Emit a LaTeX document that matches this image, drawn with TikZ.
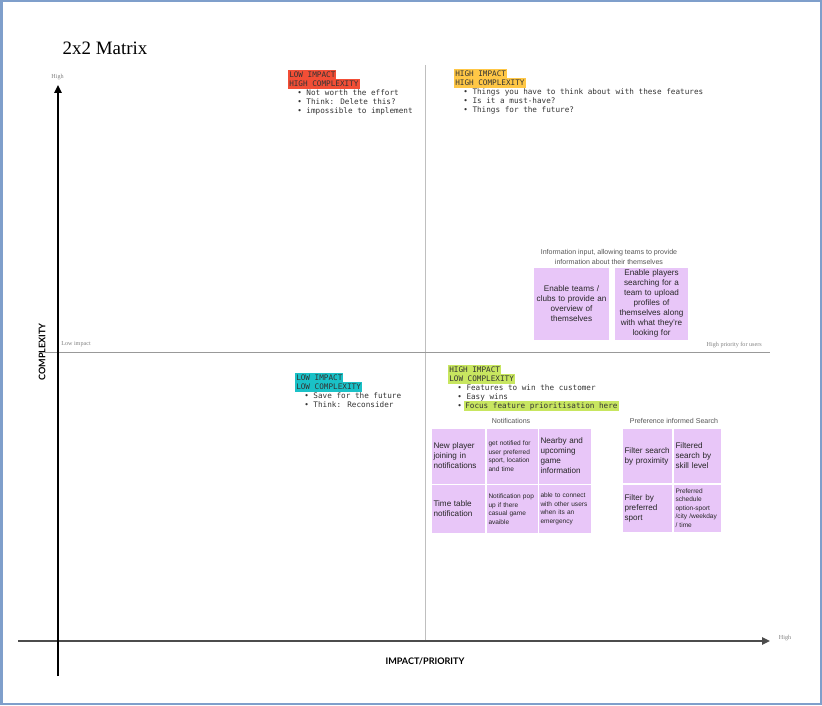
\documentclass[tikz,border=0pt]{standalone}
\usepackage{fontspec}
\setmainfont{Liberation Sans}
\newfontfamily\monof{DejaVu Sans Mono}
\newfontfamily\seriff{Liberation Serif}
\newfontfamily\latof{Lato}
\usetikzlibrary{arrows.meta}
\definecolor{framec}{HTML}{7F9FCB}
\definecolor{hlred}{HTML}{F24E36}
\definecolor{hlyel}{HTML}{FFC746}
\definecolor{hlteal}{HTML}{1AC1C7}
\definecolor{hllime}{HTML}{C8E660}
\definecolor{notec}{HTML}{E8C6F8}
\definecolor{monotxt}{HTML}{333333}
\definecolor{capc}{HTML}{555555}
\tikzset{
  frame/.style={draw=framec, line width=1.5pt},
  mono/.style={font=\monof\fontsize{5.75}{6.7}\selectfont, text=monotxt, anchor=west,
    inner xsep=0.75pt, inner ysep=0.4pt, text height=4.6pt, text depth=1.5pt},
  hl/.style={mono, fill=#1},
  tiny/.style={font=\seriff\fontsize{4.6}{5.5}\selectfont, text=gray, inner sep=0pt},
  axlab/.style={font=\latof\bfseries\fontsize{6.8}{8}\selectfont, text=black, inner sep=0pt},
  grpcap/.style={font=\fontsize{5.3}{7.4}\selectfont, text=capc, align=center, inner sep=0pt},
  note/.style={fill=notec, draw=white, line width=0.6pt, inner xsep=1.5pt, inner ysep=0pt,
    align=left, text=black!85},
  big/.style={font=\fontsize{6.1}{7.5}\selectfont},
  small/.style={font=\fontsize{4.9}{6.4}\selectfont},
  info/.style={font=\fontsize{6.1}{7.5}\selectfont, align=center},
}
\begin{document}
\begin{tikzpicture}[x=0.75pt,y=-0.75pt]
\useasboundingbox (0,0) rectangle (822,706);
\draw[frame] (1.5,1.5) rectangle (820.5,703.5);

% title
\node[font=\seriff\fontsize{14.2}{16}\selectfont, inner sep=0pt] (title) at (105,48) {2x2 Matrix};

% quadrant divider lines
\coordinate (vtop) at (425,65);
\coordinate (vbot) at (425,640);
\coordinate (hleft) at (45,352);
\coordinate (hright) at (770,352);
\draw[black!25, line width=0.7pt] (vtop) -- (vbot);
\draw[black!40, line width=0.7pt] (hleft) -- (hright);

% axes
\coordinate (yb) at (58,676);
\coordinate (yt) at (58,85);
\coordinate (xl) at (18,641);
\coordinate (xr) at (770,641);
\draw[black!70, line width=1.4pt, -{Triangle[length=6pt,width=5.5pt]}] (xl) -- (xr);
\draw[black, line width=1.4pt, -{Triangle[length=6pt,width=5.5pt]}] (yb) -- (yt);

\node[tiny] (yhigh) at (57.5,77) {High};
\node[tiny] (xhigh) at (785,638) {High};
\node[tiny, anchor=west] (lowimp) at (61,344.5) {Low impact};
\node[tiny, anchor=east] (highpri) at (762,345) {High priority for users};

\node[axlab, rotate=90] (complexity) at (42,352) {COMPLEXITY};
\node[axlab] (impact) at (425,661) {IMPACT/PRIORITY};

% top-left quadrant
\node[hl=hlred] (tl1) at (288,75) {LOW IMPACT};
\node[hl=hlred] (tl2) at (288,84) {HIGH COMPLEXITY};
\node[mono] (tl3) at (296,93) {\textbullet{} Not worth the effort};
\node[mono] (tl4) at (296,102) {\textbullet{} Think: Delete this?};
\node[mono] (tl5) at (296,111) {\textbullet{} impossible to implement};

% top-right quadrant
\node[hl=hlyel] (tr1) at (454,74) {HIGH IMPACT};
\node[hl=hlyel] (tr2) at (454,83) {HIGH COMPLEXITY};
\node[mono] (tr3) at (462,92) {\textbullet{} Things you have to think about with these features};
\node[mono] (tr4) at (462,101) {\textbullet{} Is it a must-have?};
\node[mono] (tr5) at (462,110) {\textbullet{} Things for the future?};

% bottom-left quadrant
\node[hl=hlteal] (bl1) at (295,378) {LOW IMPACT};
\node[hl=hlteal] (bl2) at (295,387) {LOW COMPLEXITY};
\node[mono] (bl3) at (303,396) {\textbullet{} Save for the future};
\node[mono] (bl4) at (303,405) {\textbullet{} Think: Reconsider};

% bottom-right quadrant
\node[hl=hllime] (br1) at (448,370) {HIGH IMPACT};
\node[hl=hllime] (br2) at (448,379) {LOW COMPLEXITY};
\node[mono] (br3) at (456,388) {\textbullet{} Features to win the customer};
\node[mono] (br4) at (456,397) {\textbullet{} Easy wins};
\node[mono] (br5) at (456,406) {\textbullet{}};
\node[hl=hllime] (br6) at (464,406) {Focus feature prioritisation here};

% information input group
\node[grpcap] (infocap) at (609,257) {Information input, allowing teams to provide\\information about their themselves};
\node[note, info, minimum width=75*0.75pt, minimum height=73*0.75pt, text width=72*0.75pt] (info1) at (571.5,303.5)
  {Enable teams /\\clubs to provide an\\overview of\\themselves};
\node[note, info, minimum width=73*0.75pt, minimum height=73*0.75pt, text width=70*0.75pt] (info2) at (651.5,303.5)
  {Enable players\\searching for a\\team to upload\\profiles of\\themselves along\\with what they're\\looking for};

% notifications group
\node[grpcap] (notifcap) at (511,421) {Notifications};
\node[note, big, minimum width=54*0.75pt, minimum height=56*0.75pt, text width=50*0.75pt] (n11) at (458.5,456)
  {New player\\joining in\\notifications};
\node[note, small, minimum width=52*0.75pt, minimum height=56*0.75pt, text width=48*0.75pt] (n12) at (512.5,456)
  {get notified for\\user preferred\\sport, location\\and time};
\node[note, big, minimum width=53*0.75pt, minimum height=56*0.75pt, text width=49*0.75pt] (n13) at (565,456)
  {Nearby and\\upcoming\\game\\information};
\node[note, big, minimum width=54*0.75pt, minimum height=49*0.75pt, text width=50*0.75pt] (n21) at (458.5,509)
  {Time table\\notification};
\node[note, small, minimum width=52*0.75pt, minimum height=49*0.75pt, text width=48*0.75pt] (n22) at (512.5,509)
  {Notification pop\\up if there\\casual game\\avaible};
\node[note, small, minimum width=53*0.75pt, minimum height=49*0.75pt, text width=49*0.75pt] (n23) at (565,509)
  {able to connect\\with other users\\when its an\\emergency};

% preference informed search group
\node[grpcap] (prefcap) at (674,421) {Preference informed Search};
\node[note, big, minimum width=50*0.75pt, minimum height=55*0.75pt, text width=46*0.75pt] (p11) at (647.5,456)
  {Filter search\\by proximity};
\node[note, big, minimum width=48*0.75pt, minimum height=55*0.75pt, text width=44*0.75pt] (p12) at (697.5,456)
  {Filtered\\search by\\skill level};
\node[note, big, minimum width=50*0.75pt, minimum height=48*0.75pt, text width=46*0.75pt] (p21) at (647.5,508)
  {Filter by\\preferred\\sport};
\node[note, small, minimum width=48*0.75pt, minimum height=48*0.75pt, text width=44*0.75pt] (p22) at (697.5,508)
  {Preferred\\schedule\\option-sport\\/city /weekday\\/ time};
\end{tikzpicture}
\end{document}
